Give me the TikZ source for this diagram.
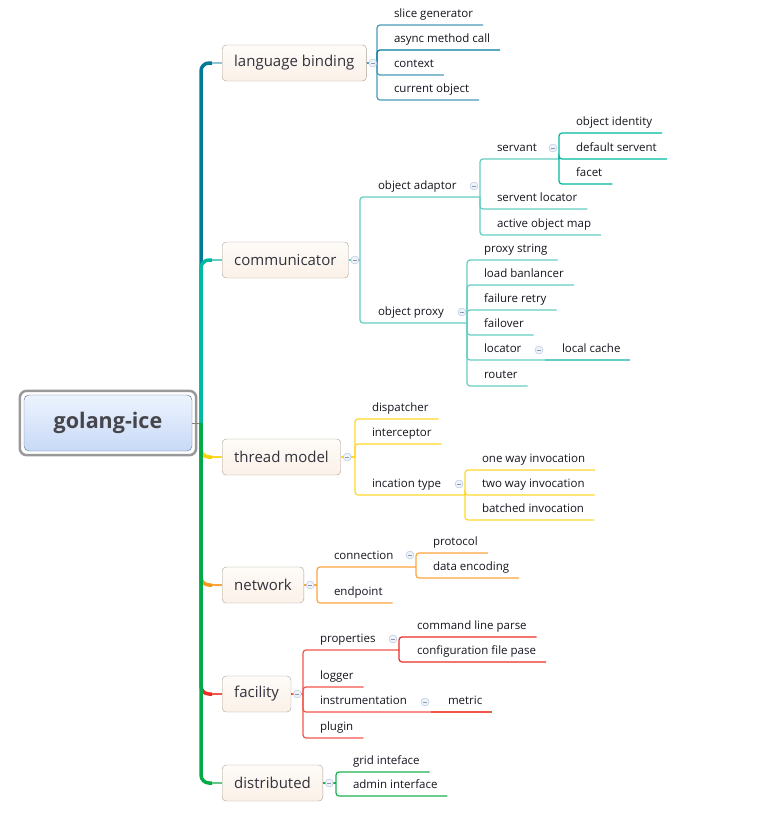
\documentclass[tikz,border=0pt]{standalone}
\usepackage{fontspec}
\setmainfont{Open Sans}
\usetikzlibrary{positioning}

\definecolor{lbcol}{RGB}{0,122,150}
\definecolor{lbline}{RGB}{70,155,185}
\definecolor{cmcol}{RGB}{0,185,160}
\definecolor{cmline}{RGB}{100,205,195}
\definecolor{tmcol}{RGB}{250,210,0}
\definecolor{tmline}{RGB}{255,215,40}
\definecolor{nwcol}{RGB}{250,150,20}
\definecolor{nwline}{RGB}{250,165,60}
\definecolor{fccol}{RGB}{235,45,35}
\definecolor{fcline}{RGB}{242,85,75}
\definecolor{dscol}{RGB}{0,170,70}
\definecolor{dsline}{RGB}{30,175,80}
\definecolor{topicedge}{RGB}{170,160,150}
\definecolor{topictop}{RGB}{254,251,248}
\definecolor{topicbot}{RGB}{251,241,232}
\definecolor{foldedge}{RGB}{175,190,220}
\definecolor{foldfill}{RGB}{238,242,250}

\tikzset{
  topic/.style={draw=topicedge, rounded corners=4pt, top color=topictop, bottom color=topicbot,
    minimum height=36pt, inner xsep=12pt, anchor=west, text={rgb,255:red,50;green,50;blue,60},
    font=\fontsize{15}{18}\selectfont},
  leaf/.style={anchor=south west, inner xsep=0pt, outer xsep=10pt, inner ysep=7pt, text depth=0pt,
    text={rgb,255:red,20;green,20;blue,30}, font=\fontsize{11.5}{13}\selectfont},
  fold/.style={circle, draw=foldedge, fill=foldfill, minimum size=8pt, inner sep=0pt,
    path picture={\draw[foldedge!80!black] ([xshift=-2pt]path picture bounding box.center)
      -- ([xshift=2pt]path picture bounding box.center);}},
  spine/.style={line width=3.5pt, rounded corners=8pt, draw=#1},
  twig/.style={line width=1.2pt, rounded corners=3pt, draw=#1},
}

\begin{document}
\begin{tikzpicture}[x=1pt,y=-1pt]
\useasboundingbox (0,0) rectangle (757,822);
% central topic
\node[draw={rgb,255:red,90;green,105;blue,150}, rounded corners=5pt, top color={rgb,255:red,236;green,243;blue,253},
  bottom color={rgb,255:red,200;green,218;blue,247}, minimum width=168pt, minimum height=56pt,
  text={rgb,255:red,70;green,70;blue,75}, font=\fontsize{21.5}{24}\selectfont\bfseries] (root) at (108,423) {golang-ice};
\draw[black!40, line width=2.5pt, rounded corners=7pt] ([shift={(-4pt,4pt)}]root.north west) rectangle ([shift={(4pt,-4pt)}]root.south east);
\coordinate (rootjoint) at (201,423);
\draw[black!50, thick] (root.east) -- (rootjoint);

% main topics
\node[topic] (lb) at (222,63) {language binding};
\node[topic] (cm) at (222,260) {communicator};
\node[topic] (tm) at (222,457) {thread model};
\node[topic] (nw) at (222,585) {network};
\node[topic] (fc) at (222,694) {facility};
\node[topic] (ds) at (222,783) {distributed};

\draw[spine=lbcol] (rootjoint) |- ([xshift=-10pt]lb.west);
\draw[twig=lbline!60] ([xshift=-10pt]lb.west) -- (lb.west);
\draw[spine=cmcol] (rootjoint) |- ([xshift=-10pt]cm.west);
\draw[twig=cmline] ([xshift=-10pt]cm.west) -- (cm.west);
\draw[spine=tmcol] (rootjoint) |- ([xshift=-10pt]tm.west);
\draw[twig=tmline] ([xshift=-10pt]tm.west) -- (tm.west);
\draw[spine=nwcol] (rootjoint) |- ([xshift=-10pt]nw.west);
\draw[twig=nwline] ([xshift=-10pt]nw.west) -- (nw.west);
\draw[spine=fccol] (rootjoint) |- ([xshift=-10pt]fc.west);
\draw[twig=fcline] ([xshift=-10pt]fc.west) -- (fc.west);
\draw[spine=dscol] (rootjoint) |- ([xshift=-10pt]ds.west);
\draw[twig=dsline!70] ([xshift=-10pt]ds.west) -- (ds.west);

% language binding
\coordinate (lbbar) at (377,63);
\node[leaf] (slice) at (384,25) {slice generator};
\node[leaf] (async) at (384,50) {async method call};
\node[leaf] (context) at (384,75) {context};
\node[leaf] (curobj) at (384,100) {current object};
\draw[twig=lbline] (lb.east) -- (lbbar);
\draw[twig=lbline] (lbbar) |- (slice.south east);
\draw[twig=lbcol] (lbbar) |- (async.south east);
\draw[twig=lbline] (lbbar) |- (context.south east);
\draw[twig=lbline] (lbbar) |- (curobj.south east);

% communicator
\coordinate (cmbar) at (360,260);
\coordinate (oabar) at (480,197);
\coordinate (svbar) at (559,159);
\coordinate (opbar) at (467,323);
\coordinate (lcbar) at (545,360);
\node[leaf] (oadapt) at (368,197) {object adaptor};
\node[leaf] (servant) at (487,159) {servant};
\node[leaf] (objid) at (566,133) {object identity};
\node[leaf] (defsv) at (566,159) {default servent};
\node[leaf] (facet) at (566,184) {facet};
\node[leaf] (svloc) at (487,209) {servent locator};
\node[leaf] (aomap) at (487,235) {active object map};
\node[leaf] (oproxy) at (368,323) {object proxy};
\node[leaf] (pstr) at (474,260) {proxy string};
\node[leaf] (lbal) at (474,285) {load banlancer};
\node[leaf] (fretry) at (474,310) {failure retry};
\node[leaf] (fover) at (474,335) {failover};
\node[leaf] (locator) at (474,360) {locator};
\node[leaf] (lcache) at (552,360) {local cache};
\node[leaf] (router) at (474,386) {router};
\draw[twig=cmline] (cm.east) -- (cmbar);
\draw[twig=cmline] (cmbar) |- (oabar);
\draw[twig=cmline] (cmbar) |- (opbar);
\draw[twig=cmline] (oabar) |- (svbar);
\draw[twig=cmline] (oabar) |- (svloc.south east);
\draw[twig=cmline] (oabar) |- (aomap.south east);
\draw[twig=cmcol] (svbar) |- (objid.south east);
\draw[twig=cmcol] (svbar) |- (defsv.south east);
\draw[twig=cmcol] (svbar) |- (facet.south east);
\draw[twig=cmline] (opbar) |- (pstr.south east);
\draw[twig=cmline] (opbar) |- (lbal.south east);
\draw[twig=cmline] (opbar) |- (fretry.south east);
\draw[twig=cmline] (opbar) |- (fover.south east);
\draw[twig=cmline] (opbar) |- (lcbar);
\draw[twig=cmline] (opbar) |- (router.south east);
\draw[twig=cmline] (lcbar) -- (lcache.south east);

% thread model
\coordinate (tmbar) at (355,457);
\coordinate (itbar) at (465,495);
\node[leaf] (disp) at (362,419) {dispatcher};
\node[leaf] (intc) at (362,444) {interceptor};
\node[leaf] (itype) at (362,495) {incation type};
\node[leaf] (oneway) at (472,470) {one way invocation};
\node[leaf] (twoway) at (472,495) {two way invocation};
\node[leaf] (batched) at (472,520) {batched invocation};
\draw[twig=tmline] (tm.east) -- (tmbar);
\draw[twig=tmline] (tmbar) |- (disp.south east);
\draw[twig=tmline] (tmbar) |- (intc.south east);
\draw[twig=tmline] (tmbar) |- (itbar);
\draw[twig=tmline] (itbar) |- (oneway.south east);
\draw[twig=tmline] (itbar) |- (twoway.south east);
\draw[twig=tmline] (itbar) |- (batched.south east);

% network
\coordinate (nwbar) at (317,585);
\coordinate (cnbar) at (416,567);
\node[leaf] (conn) at (324,567) {connection};
\node[leaf] (proto) at (423,553) {protocol};
\node[leaf] (dataenc) at (423,578) {data encoding};
\node[leaf] (endpt) at (324,603) {endpoint};
\draw[twig=nwline] (nw.east) -- (nwbar);
\draw[twig=nwline] (nwbar) |- (cnbar);
\draw[twig=nwline] (nwbar) |- (endpt.south east);
\draw[twig=nwline] (cnbar) |- (proto.south east);
\draw[twig=nwline] (cnbar) |- (dataenc.south east);

% facility
\coordinate (fcbar) at (303,694);
\coordinate (prbar) at (399,650);
\coordinate (inbar) at (431,712);
\node[leaf] (props) at (310,650) {properties};
\node[leaf] (cmdl) at (407,637) {command line parse};
\node[leaf] (cfgf) at (407,662) {configuration file pase};
\node[leaf] (logger) at (310,687) {logger};
\node[leaf] (instr) at (310,712) {instrumentation};
\node[leaf] (metric) at (438,712) {metric};
\node[leaf] (plugin) at (310,738) {plugin};
\draw[twig=fcline] (fc.east) -- (fcbar);
\draw[twig=fcline] (fcbar) |- (prbar);
\draw[twig=fcline] (fcbar) |- (logger.south east);
\draw[twig=fcline] (fcbar) |- (inbar);
\draw[twig=fcline] (fcbar) |- (plugin.south east);
\draw[twig=fccol] (prbar) |- (cmdl.south east);
\draw[twig=fccol] (prbar) |- (cfgf.south east);
\draw[twig=fcline] (inbar) -- (metric.south east);

% distributed
\coordinate (dsbar) at (336,783);
\node[leaf] (grid) at (343,772) {grid inteface};
\node[leaf] (admin) at (343,796) {admin interface};
\draw[twig=dsline] (ds.east) -- (dsbar);
\draw[twig=dsline] (dsbar) |- (grid.south east);
\draw[twig=dsline] (dsbar) |- (admin.south east);

% fold markers
\node[fold, right=2pt of lb] (lbicon) {};
\node[fold, right=2pt of cm] (cmicon) {};
\node[fold, right=2pt of tm] (tmicon) {};
\node[fold, right=2pt of nw] (nwicon) {};
\node[fold, right=2pt of fc] (fcicon) {};
\node[fold, right=2pt of ds] (dsicon) {};
\node[fold] (oaicon) at (474,186) {};
\node[fold] (svicon) at (553,148) {};
\node[fold] (opicon) at (462,312) {};
\node[fold] (locicon) at (539,350) {};
\node[fold] (iticon) at (459,484) {};
\node[fold] (cnicon) at (410,555) {};
\node[fold] (pricon) at (393,639) {};
\node[fold] (inicon) at (425,702) {};
\end{tikzpicture}
\end{document}
